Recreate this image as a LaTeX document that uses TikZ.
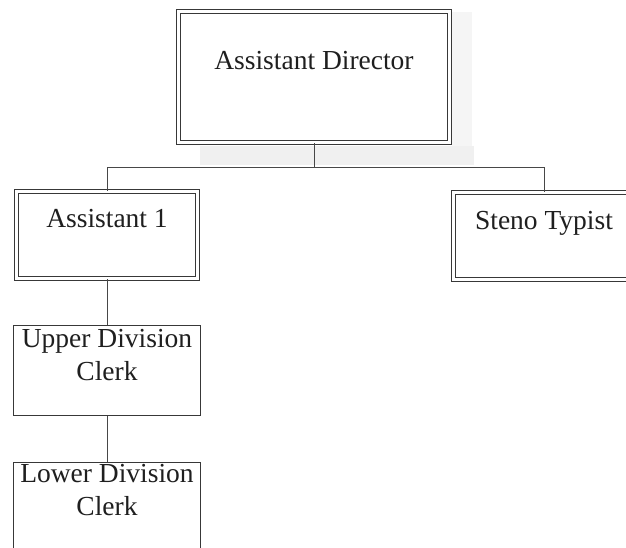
\documentclass[tikz,border=0pt]{standalone}
\usepackage{fontspec}
\setmainfont{Liberation Serif}

% Box content: width, height, baseline depth from top, text
\newcommand\cellbox[4]{\parbox[c][#2][t]{#1}{\centering\rule{0pt}{#3}#4\par}}

\tikzset{
  x=1pt, y=-1pt,
  orgtext/.style={inner sep=0pt, font=\fontsize{27.5}{33}\selectfont, text=black!88},
  dblbox/.style={orgtext, draw=black!78, line width=1.2pt, double=white, double distance=2.4pt},
  sglbox/.style={orgtext, draw=black!78, line width=1.3pt},
  link/.style={draw=black!72, line width=1pt},
}

\begin{document}
\begin{tikzpicture}
  \useasboundingbox (0,0) rectangle (626,547);
  \fill[white] (0,0) rectangle (626,547);

  % faint grey shading around the top box
  \fill[black!6] (200,146) rectangle (474,165);
  \fill[black!4] (452,12) rectangle (472,146);

  % boxes
  \node[dblbox] (ad) at (314,77) {\cellbox{271pt}{131pt}{58pt}{Assistant Director}};
  \node[dblbox] (a1) at (107,235) {\cellbox{181pt}{87pt}{35.5pt}{Assistant 1}};
  \node[dblbox] (st) at (544,236) {\cellbox{181pt}{87pt}{36.5pt}{Steno Typist}};
  \node[sglbox] (udc) at (107,370.5) {\cellbox{187pt}{90pt}{21.5pt}{Upper Division\\Clerk}};
  \node[sglbox, anchor=north] (ldc) at (107,461.5) {\cellbox{187pt}{100pt}{20.5pt}{Lower Division\\Clerk}};

  % connectors
  \coordinate (bus) at (314,167);
  \draw[link] (ad.south) -- (bus);
  \draw[link] (a1.north) |- (bus);
  \draw[link] (st.north) |- (bus);
  \draw[link] (a1.south) -- (udc.north);
  \draw[link] (udc.south) -- (ldc.north);
\end{tikzpicture}
\end{document}
